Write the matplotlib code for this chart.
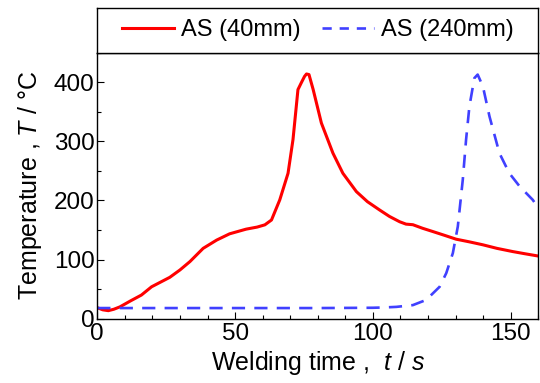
import matplotlib
matplotlib.use("Agg")
import matplotlib.pyplot as plt
from matplotlib.lines import Line2D
import numpy as np

plt.rcParams['font.family'] = ['Liberation Sans', 'DejaVu Sans']
plt.rcParams['mathtext.fontset'] = 'custom'
plt.rcParams['mathtext.rm'] = 'Liberation Sans'
plt.rcParams['mathtext.it'] = 'Liberation Sans:italic'

# AS (40mm)
t40 = [0, 2, 4, 6, 8.2, 12, 16, 19.7, 23, 26.3, 30, 33.6, 38.4, 43.3, 48, 54, 58, 60.8,
       63.2, 66.2, 69.2, 71, 72.8, 74, 75.2, 75.9, 76.8, 78.3, 81.3, 85.5, 89.1, 94, 98,
       102.4, 106, 109.7, 112, 114.5, 118, 121.7, 126, 130.2, 135, 139.9, 145, 150.7, 155, 160]
T40 = [18.6, 15, 13.6, 16, 20, 30, 40, 54, 62, 70, 82.5, 96.6, 119, 133, 143.6, 151.5, 155, 158.8,
       167, 201, 246, 303, 387.6, 399, 410, 414, 413, 388, 331, 280, 246, 215, 198,
       184, 173, 164, 160, 159, 153, 147.5, 141, 134.5, 130, 125, 119, 113.6, 110, 106]

# AS (240mm)
t240 = [0, 20, 40, 60, 80, 100, 104, 108.5, 114.5, 119.3, 124.2, 126.6, 129, 130.8, 132.6,
        133.8, 135, 136.8, 138, 139.9, 142.3, 145.9, 149.5, 153.2, 158, 160]
T240 = [18, 18, 18, 18, 18, 18.5, 19, 20, 23, 31.7, 54, 77, 111, 156, 235,
        303, 359, 407, 413, 393, 342, 280, 246, 224, 201, 187]

W, H = 540, 383
fig = plt.figure(figsize=(W / 100, H / 100), dpi=100)
ax = fig.add_axes([97.3 / W, 1 - 318.7 / H, (538.3 - 97.3) / W, (318.7 - 52.7) / H])

ax.plot(t40, T40, color='#ff0000', lw=2.2, solid_capstyle='round')
ax.plot(t240, T240, color='#4040ff', lw=1.9, dashes=(5, 3.5))

ax.set_xlim(0, 160)
ax.set_ylim(0, 450)
ax.set_xticks([0, 50, 100, 150])
ax.set_xticks(np.arange(0, 161, 10), minor=True)
ax.set_yticks([0, 100, 200, 300, 400])
ax.set_yticks(np.arange(0, 451, 50), minor=True)
ax.tick_params(which='both', direction='in', top=False, right=False, width=0.8, labelsize=17.5)
ax.tick_params(which='major', length=5)
ax.tick_params(which='minor', length=3)
ax.tick_params(axis='x', pad=3)
ax.tick_params(axis='y', pad=2)
for s in ax.spines.values():
    s.set_linewidth(1.0)

ax.set_xlabel('Welding time ,  $t$ / $s$', fontsize=18, labelpad=3)
ax.set_ylabel('Temperature , $T$ / °C', fontsize=18, labelpad=7)

# legend box above axes
lax = fig.add_axes([97.3 / W, 1 - 52.7 / H, (538.3 - 97.3) / W, (52.7 - 8.3) / H])
lax.set_xticks([])
lax.set_yticks([])
for s in lax.spines.values():
    s.set_linewidth(1.0)
handles = [Line2D([], [], color='#ff0000', lw=2.2),
           Line2D([], [], color='#4040ff', lw=1.9, dashes=(3.5, 3))]
lax.legend(handles, ['AS (40mm)', 'AS (240mm)'], loc='center', ncol=2, frameon=False,
           fontsize=17, handlelength=2.2, handletextpad=0.3, columnspacing=0.9,
           borderaxespad=0)

fig.savefig('out.png', dpi=100)
